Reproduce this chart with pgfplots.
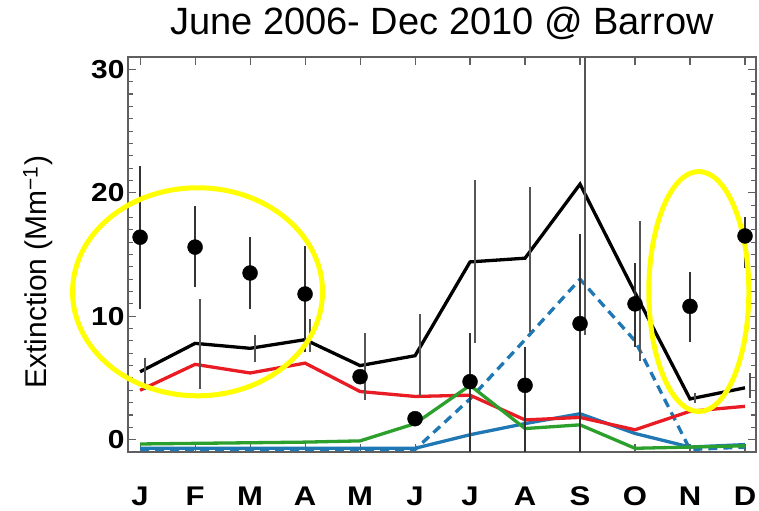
\documentclass[border=0pt]{standalone}
\usepackage{fontspec}
\setmainfont{Liberation Sans}
\newfontfamily\tickfont[FakeStretch=1.15]{Liberation Sans}
\usepackage{pgfplots}
\usepackage{pgfplotstable}
\pgfplotsset{compat=1.18}

\definecolor{modelred}{RGB}{232,28,34}
\definecolor{modelgreen}{RGB}{44,160,44}
\definecolor{modelblue}{RGB}{31,119,180}
\definecolor{framegray}{RGB}{95,95,95}
\definecolor{bargray}{RGB}{85,85,85}
\definecolor{hiyellow}{RGB}{255,255,0}

% observed monthly mean extinction with spread
\pgfplotstableread{
m obs ep em
1 16.4 5.8 5.8
2 15.6 3.3 3.2
3 13.5 2.9 2.9
4 11.8 3.9 4.7
5 5.1 0 0
6 1.7 0 0
7 4.7 3.9 5.7
8 4.4 3.1 5.4
9 9.4 7.3 10.4
10 11.0 3.3 3.5
11 10.8 2.8 2.9
12 16.5 1.5 2.6
}\obsdata

% modelled total with spread, and components
\pgfplotstableread{
m tot tep tem red green blue dash
1 5.5 1.1 1.5 4.0 -0.35 -0.7 -0.8
2 7.8 3.6 3.7 6.1 -0.3 -0.7 -0.8
3 7.4 1.1 1.1 5.4 -0.25 -0.7 -0.8
4 8.1 1.7 1.0 6.2 -0.2 -0.7 -0.8
5 6.0 2.6 2.8 3.9 -0.1 -0.7 -0.8
6 6.8 3.4 3.3 3.5 1.3 -0.7 -0.8
7 14.4 6.6 6.6 3.6 4.4 0.4 3.3
8 14.7 5.8 6.0 1.6 0.9 1.3 8.1
9 20.7 10.3 12.2 1.8 1.2 2.1 13.0
10 11.9 5.8 5.5 0.8 -0.7 0.5 8.0
11 3.3 0.5 0.3 2.3 -0.6 -0.6 -0.8
12 4.2 1.2 0.8 2.7 -0.5 -0.4 -0.6
}\modeldata

\begin{document}
\begin{tikzpicture}
\useasboundingbox (-128bp,-59bp) rectangle (631bp,452bp);
\begin{axis}[
  at={(0,0)}, anchor=south west,
  scale only axis, width=628bp, height=395bp,
  xmin=0.78, xmax=12.2, ymin=-1, ymax=31,
  xtick={1,...,12},
  xticklabels={J,F,M,A,M,J,J,A,S,O,N,D},
  ytick={0,10,20,30}, minor y tick num=9,
  tick align=inside,
  major tick length=8bp, minor tick length=5bp,
  axis line style={framegray, line width=1.3bp},
  every tick/.style={framegray, line width=1.1bp},
  /pgf/number format/assume math mode=true,
  xticklabel style={font=\tickfont\bfseries\fontsize{27bp}{29bp}\selectfont, anchor=base, inner sep=1bp, yshift=-53bp},
  yticklabel style={font=\tickfont\bfseries\fontsize{26bp}{28bp}\selectfont},
  title={June 2006- Dec 2010 @ Barrow},
  title style={font=\fontsize{38bp}{40bp}\selectfont, at={(axis description cs:0.5,1)}, anchor=base, yshift=17bp},
  ylabel={Extinction (Mm\textsuperscript{−1})},
  ylabel style={font=\fontsize{30bp}{32bp}\selectfont, at={(axis description cs:-0.1433,0.455)}, anchor=center},
  clip=false,
]
% component lines
\addplot[modelblue, line width=3.3bp] table[x=m, y=blue]{\modeldata};
\addplot[modelblue, line width=3.3bp, dash pattern=on 9bp off 6bp] table[x=m, y=dash]{\modeldata};
\addplot[modelred, line width=3.3bp] table[x=m, y=red]{\modeldata};
\addplot[modelgreen, line width=3.3bp] table[x=m, y=green]{\modeldata};
% modelled total
\addplot[black, line width=3.3bp] table[x=m, y=tot]{\modeldata};
% spread of the modelled total, set slightly to the right
\addplot[only marks, mark=*, mark options={opacity=0},
  error bars/.cd, y dir=both, y explicit, error mark=none,
  error bar style={bargray, line width=1.3bp}]
  table[x expr=\thisrow{m}+0.09, y=tot, y error plus=tep, y error minus=tem]{\modeldata};
% spread of the observations
\addplot[only marks, mark=*, mark options={opacity=0},
  error bars/.cd, y dir=both, y explicit, error mark=none,
  error bar style={black!80, line width=1.3bp}]
  table[x=m, y=obs, y error plus=ep, y error minus=em]{\obsdata};
% observed means
\addplot[only marks, mark=*, mark size=7.5bp, black] table[x=m, y=obs]{\obsdata};
% highlighted seasons
\draw[hiyellow, line width=5bp] (axis cs:2.045,11.98) ellipse [x radius=125bp, y radius=104bp];
\draw[hiyellow, line width=5bp] (axis cs:11.16,12.0) ellipse [x radius=50bp, y radius=120bp];
\end{axis}
\end{tikzpicture}
\end{document}
